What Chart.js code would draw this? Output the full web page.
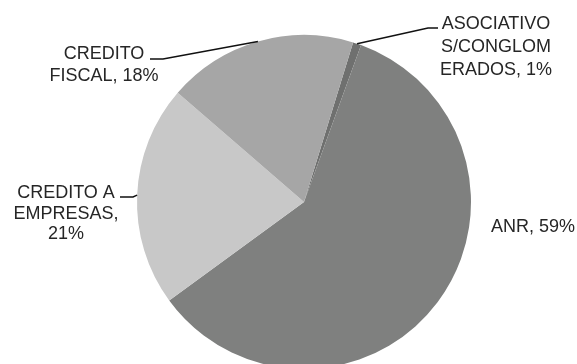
<!DOCTYPE html>
<html>
<head>
<meta charset="utf-8">
<script src="https://cdn.jsdelivr.net/npm/chart.js@4/dist/chart.umd.min.js"></script>
<style>
  html, body { margin: 0; padding: 0; background: #fff; }
  body { width: 577px; height: 364px; overflow: hidden; }
  #wrap { width: 577px; height: 404px; }
</style>
</head>
<body>
<div id="wrap"><canvas id="c" width="577" height="404"></canvas></div>
<script>
// datos del gráfico
const categories = ['ASOCIATIVO S/CONGLOMERADOS', 'ANR', 'CREDITO A EMPRESAS', 'CREDITO FISCAL'];
const shares = [0.8, 59.4, 21.4, 18.4];
// cortes de línea de las etiquetas, {p} = porcentaje
const labelLines = [
  ['ASOCIATIVO', 'S/CONGLOM', 'ERADOS, {p}'],
  ['ANR, {p}'],
  ['CREDITO A', 'EMPRESAS,', '{p}'],
  ['CREDITO', 'FISCAL, {p}']
];
const sliceColors = ['#6f706f', '#7f807f', '#c8c8c8', '#a6a6a6'];

// posición de cada etiqueta: centro x, primera línea base y, codo de la línea guía
const labelPos = [
  { cx: 496, y: 29, lh: 23, elbow: [428, 28], end: [438, 28] },
  { cx: 533, y: 231.5, lh: 22, elbow: null },
  { cx: 66, y: 198, lh: 20.7, elbow: [133, 197], end: [120, 197] },
  { cx: 104, y: 59, lh: 21.5, elbow: [163, 59], end: [150, 59] }
];

const total = shares.reduce((a, b) => a + b, 0);

const labelPlugin = {
  id: 'pieLabels',
  afterDraw(chart) {
    const ctx = chart.ctx;
    const meta = chart.getDatasetMeta(0);
    ctx.save();
    meta.data.forEach((arc, i) => {
      const p = arc.getProps(['x', 'y', 'startAngle', 'endAngle', 'outerRadius'], true);
      const mid = (p.startAngle + p.endAngle) / 2;
      const pos = labelPos[i];
      // línea guía desde el borde del sector
      if (pos.elbow) {
        const ex = p.x + Math.cos(mid) * p.outerRadius;
        const ey = p.y + Math.sin(mid) * p.outerRadius;
        ctx.beginPath();
        ctx.moveTo(ex, ey);
        ctx.lineTo(pos.elbow[0], pos.elbow[1]);
        ctx.lineTo(pos.end[0], pos.end[1]);
        ctx.strokeStyle = '#111';
        ctx.lineWidth = 1.5;
        ctx.stroke();
      }
      const pct = Math.round(shares[i] / total * 100) + '%';
      ctx.fillStyle = '#262626';
      ctx.font = '18px "Liberation Sans", Arial, sans-serif';
      ctx.textAlign = 'center';
      ctx.textBaseline = 'alphabetic';
      labelLines[i].forEach((t, k) => {
        ctx.fillText(t.replace('{p}', pct), pos.cx, pos.y + k * pos.lh);
      });
    });
    ctx.restore();
  }
};

new Chart(document.getElementById('c'), {
  type: 'pie',
  data: {
    labels: categories,
    datasets: [{
      data: shares,
      backgroundColor: sliceColors,
      borderWidth: 0
    }]
  },
  options: {
    responsive: false,
    animation: false,
    devicePixelRatio: 1,
    rotation: 17.1,
    layout: { padding: { left: 137, right: 106, top: 35, bottom: 35 } },
    plugins: {
      legend: { display: false },
      tooltip: { enabled: false }
    }
  },
  plugins: [labelPlugin]
});
</script>
</body>
</html>
